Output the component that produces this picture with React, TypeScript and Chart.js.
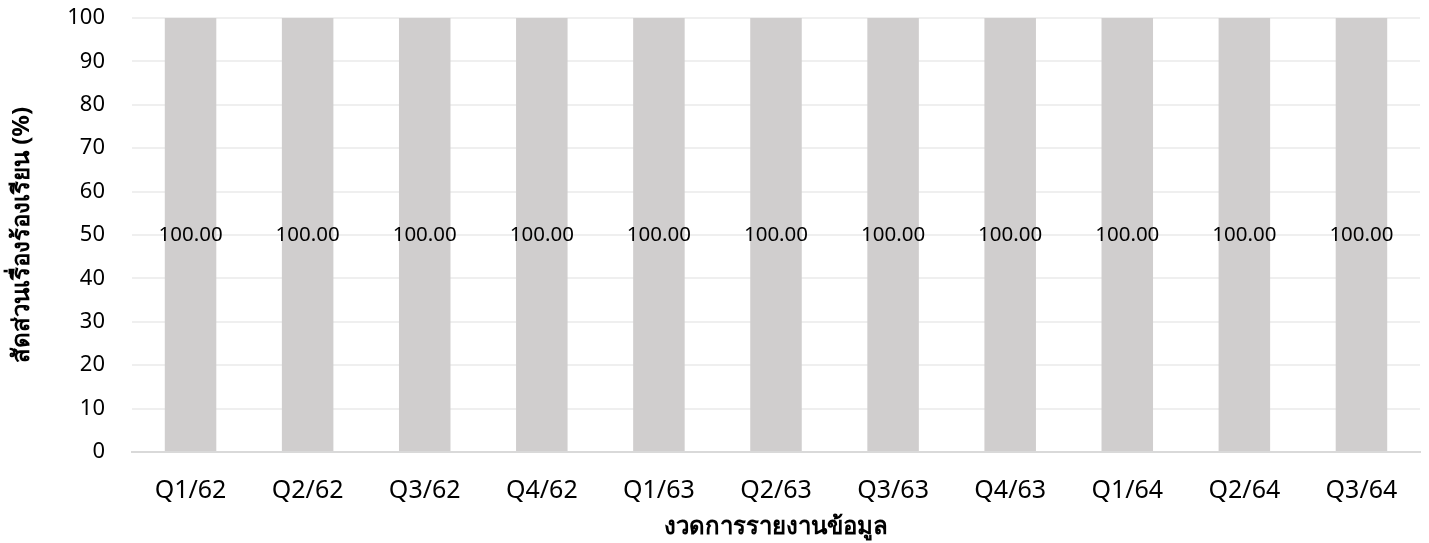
import React, { useEffect, useRef } from "react";
import { Chart, registerables } from "chart.js";

Chart.register(...registerables);

const categories = ["Q1/62", "Q2/62", "Q3/62", "Q4/62", "Q1/63", "Q2/63", "Q3/63", "Q4/63", "Q1/64", "Q2/64", "Q3/64"];
const values = [100, 100, 100, 100, 100, 100, 100, 100, 100, 100, 100];
const yTitle = "สัดส่วนเรื่องร้องเรียน (%)";
const xTitle = "งวดการรายงานข้อมูล";

const FONT = "Tahoma, 'Noto Sans', 'DejaVu Sans', sans-serif";

const labelPlugin = {
  id: "barLabels",
  afterDatasetsDraw(chart: any) {
    const ctx = chart.ctx;
    const meta = chart.getDatasetMeta(0);
    const yScale = chart.scales.y;
    ctx.save();
    ctx.font = `20.5px ${FONT}`;
    ctx.fillStyle = "#000";
    ctx.textAlign = "center";
    ctx.textBaseline = "middle";
    meta.data.forEach((el: any, i: number) => {
      const v = values[i];
      const yMid = yScale.getPixelForValue(v / 2);
      ctx.fillText(v.toFixed(2), el.x, yMid);
    });
    ctx.restore();
  },
};

export default function App() {
  const ref = useRef<HTMLCanvasElement>(null);
  useEffect(() => {
    document.body.style.margin = "0";
    const chart = new Chart(ref.current!, {
      type: "bar",
      data: {
        labels: categories,
        datasets: [
          {
            data: values,
            backgroundColor: "#d0cece",
            barPercentage: 0.44,
            categoryPercentage: 1,
          },
        ],
      },
      options: {
        animation: false,
        responsive: false,
        maintainAspectRatio: false,
        layout: { padding: { top: 0, right: 9, left: 0, bottom: 0 } },
        plugins: { legend: { display: false }, tooltip: { enabled: false } },
        scales: {
          x: {
            grid: { display: false, drawTicks: false },
            border: { color: "#d9d9d9", width: 2 },
            ticks: { color: "#000", font: { family: FONT, size: 25 }, padding: 24, maxRotation: 0 },
            title: { display: true, text: xTitle, color: "#000", font: { family: FONT, size: 24, weight: "bold" }, padding: { top: 0, bottom: 1 } },
            afterFit: (s: any) => {
              s.height = 91;
              s.paddingLeft = 0;
              s.paddingRight = 0;
            },
          },
          y: {
            min: 0,
            max: 100,
            ticks: { stepSize: 10, color: "#000", font: { family: FONT, size: 22 }, padding: 27 },
            grid: { color: "#efefef", lineWidth: 2, drawTicks: false },
            border: { display: false },
            title: { display: true, text: yTitle, color: "#000", font: { family: FONT, size: 24, weight: "bold" }, padding: { top: 8, bottom: 0 } },
            afterFit: (s: any) => {
              s.width = 132;
              s.paddingTop = 18;
              s.paddingBottom = 0;
            },
          },
        },
      },
      plugins: [labelPlugin],
    });
    return () => chart.destroy();
  }, []);
  return (
    <div style={{ width: 1429, height: 543 }}>
      <canvas ref={ref} width={1429} height={543} style={{ display: "block" }} />
    </div>
  );
}
